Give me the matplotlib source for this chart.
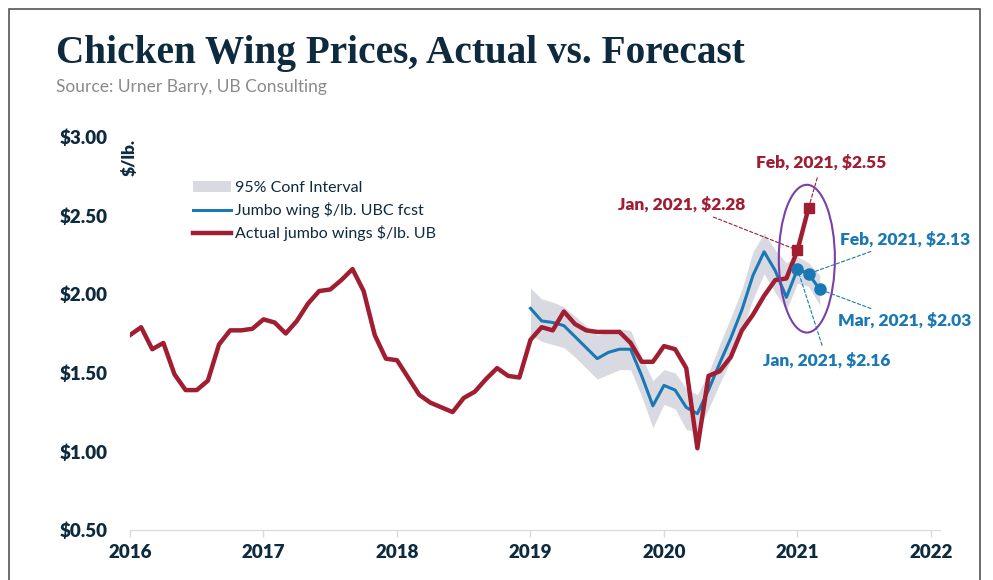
import numpy as np
import matplotlib.pyplot as plt
from matplotlib.patches import Ellipse, Rectangle, Patch
from matplotlib.lines import Line2D

# Actual jumbo wing prices, monthly from Jan 2016 to Feb 2021
actual = [
    1.74, 1.79, 1.65, 1.69, 1.49, 1.39, 1.39, 1.45, 1.68, 1.77, 1.77, 1.78,  # 2016
    1.84, 1.82, 1.75, 1.83, 1.94, 2.02, 2.03, 2.09, 2.16, 2.02, 1.74, 1.59,  # 2017
    1.58, 1.47, 1.36, 1.31, 1.28, 1.25, 1.34, 1.38, 1.46, 1.53, 1.48, 1.47,  # 2018
    1.71, 1.79, 1.77, 1.89, 1.81, 1.77, 1.76, 1.76, 1.76, 1.69, 1.57, 1.57,  # 2019
    1.67, 1.65, 1.53, 1.02, 1.48, 1.51, 1.60, 1.77, 1.87, 1.99, 2.09, 2.10,  # 2020
    2.28, 2.55,                                                              # 2021
]
# UBC forecast, monthly from Jan 2019 to Mar 2021
fcst = [
    1.91, 1.83, 1.82, 1.80, 1.73, 1.66, 1.59, 1.63, 1.65, 1.65, 1.48, 1.29,
    1.42, 1.39, 1.28, 1.24, 1.39, 1.56, 1.72, 1.90, 2.12, 2.27, 2.15, 1.98,
    2.16, 2.13, 2.03,
]
ci_upper = [
    2.04, 1.97, 1.95, 1.92, 1.86, 1.80, 1.74, 1.76, 1.78, 1.77, 1.60, 1.45,
    1.52, 1.50, 1.40, 1.36, 1.50, 1.68, 1.85, 2.03, 2.27, 2.39, 2.28, 2.20,
    2.24, 2.20, 2.12,
]
ci_lower = [
    1.74, 1.70, 1.68, 1.66, 1.60, 1.53, 1.46, 1.49, 1.52, 1.52, 1.35, 1.15,
    1.30, 1.27, 1.14, 1.12, 1.27, 1.43, 1.58, 1.76, 1.97, 2.13, 2.01, 1.90,
    2.07, 2.05, 1.93,
]
years = [2016, 2017, 2018, 2019, 2020, 2021, 2022]
yticks = [0.5, 1.0, 1.5, 2.0, 2.5, 3.0]

x_act = 2016 + np.arange(len(actual)) / 12
x_fc = 2019 + np.arange(len(fcst)) / 12

navy = '#0d2a3f'
red = '#a01d32'
blue = '#1a78b4'
band = '#d9dae1'

plt.rcParams['font.family'] = ['Lato', 'DejaVu Sans']

fig = plt.figure(figsize=(9.93, 5.8), dpi=100)
ax = fig.add_axes([130/993, 50/580, 810/993, 393/580])

ax.fill_between(x_fc, ci_lower, ci_upper, color=band, lw=0, zorder=1)
ax.plot(x_fc, fcst, color=blue, lw=2.2, zorder=2)
ax.plot(x_act, actual, color=red, lw=3.2, zorder=3)

# highlighted points
ax.plot(x_act[-2:], actual[-2:], 's', color=red, ms=7, zorder=4)
ax.plot(x_fc[-3:], fcst[-3:], 'o', color=blue, ms=8, zorder=4)

ax.add_patch(Ellipse((2021.07, 2.226), 0.42, 0.94, fill=False,
                     edgecolor='#7b3fa8', lw=1.5, zorder=5))

# labels
def label(txt, xy, xytext, color, ha, va='center'):
    ax.annotate(txt, xy=xy, xytext=xytext, color=color, ha=ha, va=va,
                fontsize=12.5, fontweight='heavy', annotation_clip=False,
                arrowprops=dict(arrowstyle='-', color=color, lw=0.8,
                                linestyle=(0, (3, 2)), shrinkA=3, shrinkB=2))

label('Feb, 2021, $2.55', (x_act[-1], actual[-1]), (2021.18, 2.835), red, 'center')
label('Jan, 2021, $2.28', (x_act[-2], actual[-2]), (2020.61, 2.57), red, 'right')
label('Feb, 2021, $2.13', (x_fc[-2], fcst[-2]), (2021.32, 2.35), blue, 'left')
label('Mar, 2021, $2.03', (x_fc[-1], fcst[-1]), (2021.30, 1.83), blue, 'left')
label('Jan, 2021, $2.16', (x_fc[-3], fcst[-3]), (2021.22, 1.58), blue, 'center')

ax.set_xlim(2016, 2016 + 810/133.5)
ax.set_ylim(0.5, 3.0)
ax.set_xticks(years)
ax.set_xticklabels([str(y) for y in years])
ax.set_yticks(yticks)
ax.set_yticklabels(['$%.2f' % v for v in yticks])
for s in ['top', 'right', 'left']:
    ax.spines[s].set_visible(False)
ax.spines['bottom'].set_color('#d9d9d9')
ax.tick_params(axis='x', colors='#d9d9d9', length=5, width=1, pad=5)
ax.tick_params(axis='y', length=0, pad=16)
for t in ax.get_xticklabels() + ax.get_yticklabels():
    t.set_color(navy)
    t.set_fontweight('heavy')
    t.set_fontsize(13.5)

ax.text(2016.0, 2.99, '$/lb.', rotation=90, ha='center', va='top',
        fontsize=12.5, fontweight='heavy', color=navy)

handles = [Patch(facecolor=band, edgecolor='none'),
           Line2D([], [], color=blue, lw=2.2),
           Line2D([], [], color=red, lw=3.2)]
ax.legend(handles, ['95% Conf Interval', 'Jumbo wing $/lb. UBC fcst',
                    'Actual jumbo wings $/lb. UB'],
          loc='upper left', bbox_to_anchor=(0.07, 0.905), frameon=False,
          fontsize=11.5, labelcolor=navy, handlelength=2.4, handletextpad=0.2,
          labelspacing=0.45, borderaxespad=0)

fig.text(56/993, 1 - 53/580, 'Chicken Wing Prices, Actual vs. Forecast',
         family=['Liberation Serif', 'DejaVu Serif'], fontweight='bold',
         fontsize=28.3, color=navy, va='center', ha='left')
fig.text(56/993, 1 - 87/580, 'Source: Urner Barry, UB Consulting',
         fontsize=12.5, color='#8a8a8a', va='center', ha='left')

fig.add_artist(Rectangle((9/993, -0.05), 971/993, 1.05 - 9/580,
                         transform=fig.transFigure, fill=False,
                         edgecolor='#555555', lw=1.2))

fig.savefig('out.png', dpi=100)
